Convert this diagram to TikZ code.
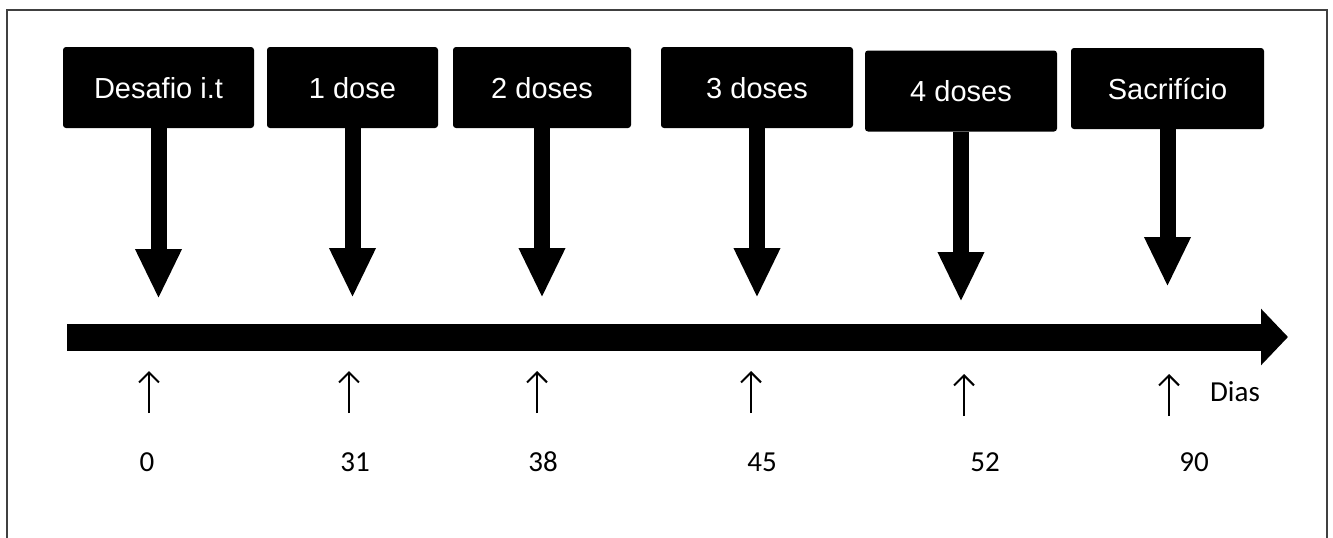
\documentclass[tikz,border=0pt]{standalone}
\usepackage{fontspec}
\setmainfont{Carlito}
\newfontfamily\boxfont{Liberation Sans}
\usetikzlibrary{arrows.meta}

\tikzset{
  daybox/.style={fill=black, text=white, rounded corners=3pt, minimum height=81pt,
    inner sep=0pt, text height=21pt, text depth=0pt,
    font=\boxfont\fontsize{29}{34}\selectfont},
  bigdown/.style={line width=16pt, -{Triangle[width=43pt,length=50pt]}},
  timeline/.style={line width=27pt, -{Triangle[width=55pt,length=27pt]}},
  tick/.style={line width=2pt, -{Straight Barb[length=10pt,width=20pt]}},
  daynum/.style={inner sep=0pt, text height=19pt, text depth=0pt,
    font=\fontsize{29}{34}\selectfont}
}

\begin{document}
\begin{tikzpicture}[x=1pt,y=-1pt]
\useasboundingbox (0,0) rectangle (1333,538);
% Open frame round the scheme
\draw[black!75,line width=1.5pt] (7,538) -- (7,10) -- (1327,10) -- (1327,538);
% Events on top
\node[daybox,minimum width=191pt] (desafio) at (158.5,87.5) {Desafio i.t};
\node[daybox,minimum width=171pt] (dose1) at (352.5,87.5) {1 dose};
\node[daybox,minimum width=178pt] (dose2) at (542,87.5) {2 doses};
\node[daybox,minimum width=192pt] (dose3) at (757,87.5) {3 doses};
\node[daybox,minimum width=192pt] (dose4) at (961,91) {4 doses};
\node[daybox,minimum width=193pt] (sacrif) at (1167.5,88.5) {Sacrifício};
% Arrows down to the time line
\draw[bigdown] (desafio.south) -- (158.5,299) coordinate (p0);
\draw[bigdown] (dose1.south) -- (352.5,298) coordinate (p31);
\draw[bigdown] (dose2.south) -- (542,298) coordinate (p38);
\draw[bigdown] (dose3.south) -- (757,298) coordinate (p45);
\draw[bigdown] (dose4.south) -- (961,302) coordinate (p52);
\draw[bigdown] (sacrif.south) -- (1167.5,287) coordinate (p90);
% Time line
\coordinate (tstart) at (67,337);
\coordinate (tend) at (1288,337);
\draw[timeline] (tstart) -- (tend);
% Day marks
\draw[tick] (149,413) coordinate (m0) -- +(0,-42);
\draw[tick] (349,413) coordinate (m31) -- +(0,-42);
\draw[tick] (537,413) coordinate (m38) -- +(0,-42);
\draw[tick] (751,413) coordinate (m45) -- +(0,-42);
\draw[tick] (964,416) coordinate (m52) -- +(0,-42);
\draw[tick] (1169,416) coordinate (m90) -- +(0,-42);
\node[daynum] (dias) at (1235,392) {Dias};
% Day numbers
\node[daynum] (n0) at (147,462) {0};
\node[daynum] (n31) at (355,462) {31};
\node[daynum] (n38) at (543,462) {38};
\node[daynum] (n45) at (762,462) {45};
\node[daynum] (n52) at (985,462) {52};
\node[daynum] (n90) at (1194,462) {90};
\end{tikzpicture}
\end{document}
